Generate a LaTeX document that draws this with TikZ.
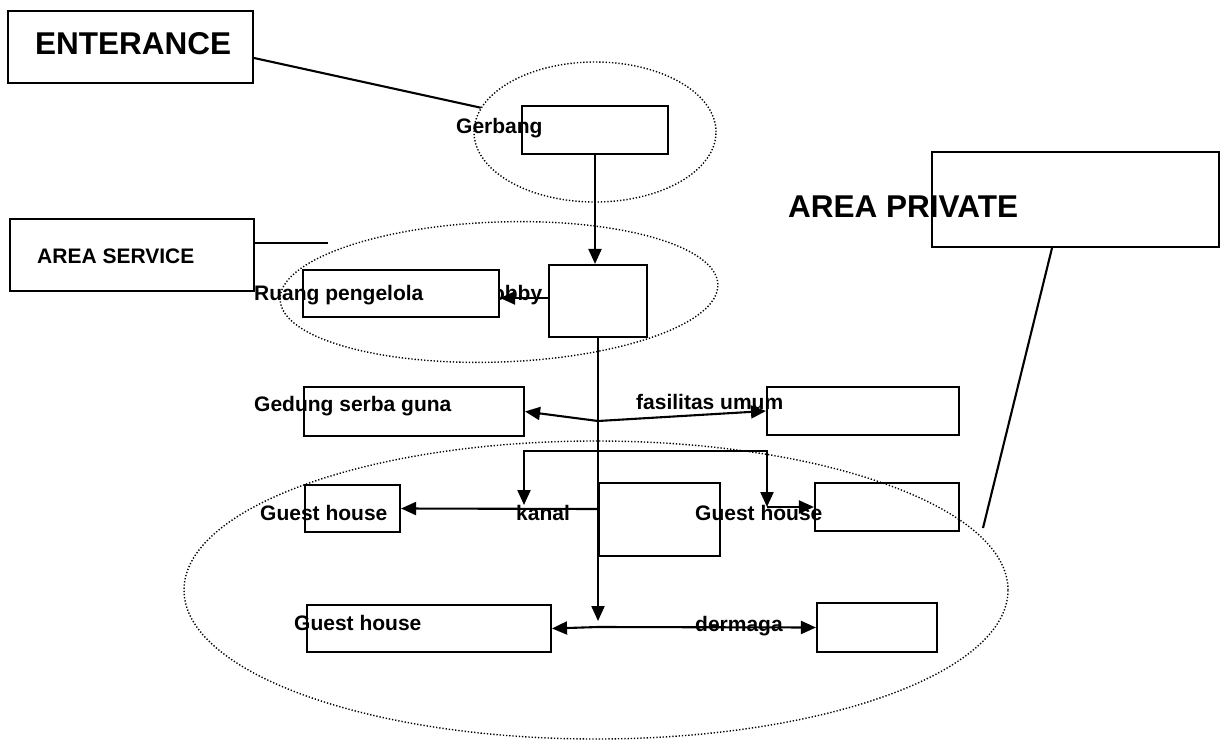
\documentclass[tikz,border=0pt]{standalone}
\usepackage{fontspec}
\setmainfont{Liberation Sans}
\usetikzlibrary{arrows.meta,shapes.geometric}
\begin{document}
\begin{tikzpicture}[x=1pt,y=-1pt,
  box/.style={draw, line width=2.1pt, inner sep=0pt},
  zone/.style={draw, ellipse, line width=1.4pt, dash pattern=on 1.3pt off 1.9pt, inner sep=0pt},
  lab/.style={anchor=base west, inner sep=0pt, font=\bfseries\fontsize{21}{25}\selectfont},
  biglab/.style={anchor=base west, inner sep=0pt, font=\bfseries\fontsize{31.5}{36}\selectfont},
  link/.style={line width=2.1pt},
  arr/.style={line width=2.1pt, -{Triangle[length=15pt,width=13pt]}}
]
\useasboundingbox (0,0) rectangle (1220,741);

% zones
\node[zone, minimum width=242pt, minimum height=140pt] (ge) at (595,132) {};
\node[zone, minimum width=438pt, minimum height=140pt, rotate=2] (se) at (499,292) {};
\node[zone, minimum width=824pt, minimum height=298pt] (pe) at (596,590) {};

% boxes
\node[box, minimum width=245pt, minimum height=72pt] (ent) at (130.5,47) {};
\node[box, minimum width=244pt, minimum height=72pt] (svc) at (132,255) {};
\node[box, minimum width=287pt, minimum height=95pt] (prv) at (1075.5,199.5) {};
\node[box, minimum width=146pt, minimum height=48pt] (gerb) at (595,130) {};
\node[box, minimum width=98pt, minimum height=72pt] (lobby) at (598,301) {};
\node[box, minimum width=220pt, minimum height=49pt] (ged) at (414,411.5) {};
\node[box, minimum width=192pt, minimum height=48pt] (fas) at (863,411) {};
\node[box, minimum width=95pt, minimum height=47pt] (ghl) at (352.5,508.5) {};
\node[box, minimum width=121pt, minimum height=73pt] (mid) at (659.5,519.5) {};
\node[box, minimum width=144pt, minimum height=48pt] (ghr) at (887,507) {};
\node[box, minimum width=244pt, minimum height=47pt] (ghb) at (429,628.5) {};
\node[box, minimum width=120pt, minimum height=49pt] (derm) at (877,627.5) {};
\node[lab] (tlobby) at (486,300) {lobby};
\node[box, fill=white, minimum width=196pt, minimum height=47pt] (rp) at (401,293.5) {};

% labels
\node[biglab] (tent) at (35,55) {ENTERANCE};
\node[biglab] (tprv) at (788,217) {AREA PRIVATE};
\node[lab] (tsvc) at (37,263) {AREA SERVICE};
\node[lab] (tgerb) at (456,133) {Gerbang};
\node[lab] (trp) at (254,300) {Ruang pengelola};
\node[lab] (tged) at (254,411) {Gedung serba guna};
\node[lab] (tfas) at (636,409) {fasilitas umum};
\node[lab] (tghl) at (260,520) {Guest house};
\node[lab] (tkanal) at (516,520) {kanal};
\node[lab] (tghr) at (695,520) {Guest house};
\node[lab] (tghb) at (294,630) {Guest house};
\node[lab] (tderm) at (695,631) {dermaga};

% coordinates
\coordinate (svcend) at (328,243);
\coordinate (prvend) at (983,528);
\coordinate (j1) at (598,421);
\coordinate (j2) at (598,451);
\coordinate (j3) at (598,509);
\coordinate (j4) at (598,627);
\coordinate (hub) at (598,621);
\coordinate (kdown) at (524,505);
\coordinate (gdown) at (767,507);

% connectors
\draw[link] ([yshift=-11pt]ent.east) -- (ge.168);
\draw[link] (svc.east |- svcend) -- (svcend);
\draw[link] ([xshift=-23.5pt]prv.south) -- (prvend);
\draw[arr] (gerb.south) -- (gerb.south |- lobby.north);
\draw[arr] ([yshift=3pt]lobby.west) -- ([yshift=3pt]lobby.west -| rp.east);
\draw[arr] (lobby.south) -- (hub);
\draw[arr] (j1) -- (ged.east);
\draw[arr] (j1) -- (fas.west);
\draw[arr] (j2) -| (kdown);
\draw[arr] (j2) -| (gdown);
\draw[arr] (j3) -- (ghl.east);
\draw[arr] (gdown) -- (ghr.west);
\draw[arr] (j4) -- (ghb.east);
\draw[arr] (j4) -- (derm.west);
\end{tikzpicture}
\end{document}
